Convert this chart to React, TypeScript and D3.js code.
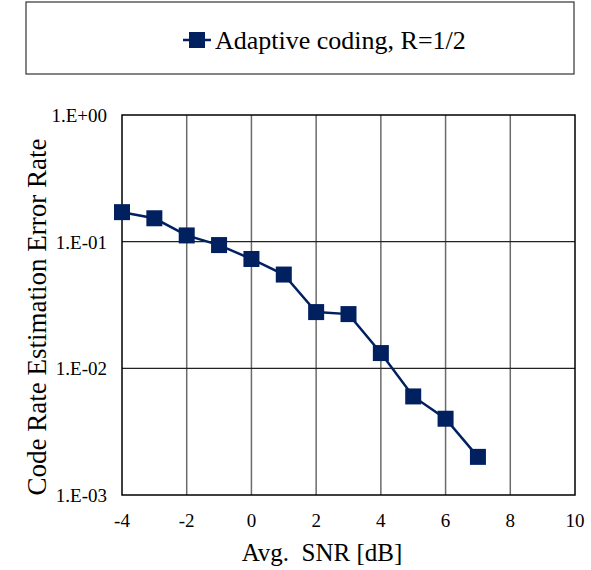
import { useEffect, useRef } from 'react'
import * as d3 from 'd3'

const snr = [-4, -3, -2, -1, 0, 1, 2, 3, 4, 5, 6, 7]
const errorRate = [0.171, 0.153, 0.112, 0.094, 0.073, 0.055, 0.0278, 0.0268, 0.0132, 0.006, 0.004, 0.002]
const xTicks = [-4, -2, 0, 2, 4, 6, 8, 10]
const yTicks = [1, 0.1, 0.01, 0.001]
const yTickLabels = ['1.E+00', '1.E-01', '1.E-02', '1.E-03']
const seriesName = 'Adaptive coding, R=1/2'

export default function App() {
  const svgRef = useRef<SVGSVGElement>(null)

  useEffect(() => {
    const W = 591
    const H = 570
    const margin = { top: 115, right: 16, bottom: 75, left: 122 }
    const innerW = W - margin.left - margin.right
    const innerH = H - margin.top - margin.bottom
    const color = '#002060'
    const font = "'Liberation Serif', 'Times New Roman', 'DejaVu Serif', serif"

    const svg = d3.select(svgRef.current)
    svg.selectAll('*').remove()
    svg.attr('width', W).attr('height', H).style('font-family', font)

    svg.append('rect').attr('width', W).attr('height', H).attr('fill', '#fff')

    const x = d3.scaleLinear().domain([-4, 10]).range([0, innerW])
    const y = d3.scaleLog().domain([0.001, 1]).range([innerH, 0])

    const g = svg.append('g').attr('transform', `translate(${margin.left},${margin.top})`)

    // vertical grid
    g.append('g')
      .selectAll('line')
      .data(xTicks.slice(1, -1))
      .join('line')
      .attr('x1', (d) => x(d)).attr('x2', (d) => x(d))
      .attr('y1', 0).attr('y2', innerH)
      .attr('stroke', '#6b6b6b').attr('stroke-width', 1.5)

    // horizontal grid
    g.append('g')
      .selectAll('line')
      .data(yTicks.slice(1, -1))
      .join('line')
      .attr('x1', 0).attr('x2', innerW)
      .attr('y1', (d) => y(d)).attr('y2', (d) => y(d))
      .attr('stroke', '#222').attr('stroke-width', 1.2)

    g.append('rect')
      .attr('width', innerW).attr('height', innerH)
      .attr('fill', 'none').attr('stroke', '#000').attr('stroke-width', 1.5)

    // x tick labels
    g.append('g')
      .selectAll('text')
      .data(xTicks)
      .join('text')
      .attr('x', (d) => x(d)).attr('y', innerH + 32)
      .attr('text-anchor', 'middle')
      .style('font-size', '19px').attr('fill', '#000')
      .text((d) => String(d))

    // y tick labels
    g.append('g')
      .selectAll('text')
      .data(yTicks)
      .join('text')
      .attr('x', -15).attr('y', (d) => y(d) + 7)
      .attr('text-anchor', 'end')
      .style('font-size', '19px').attr('fill', '#000')
      .text((_, i) => yTickLabels[i])

    const pts = snr.map((s, i) => ({ s, v: errorRate[i] }))
    const line = d3.line<{ s: number; v: number }>().x((d) => x(d.s)).y((d) => y(d.v))

    g.append('path')
      .datum(pts)
      .attr('fill', 'none').attr('stroke', color).attr('stroke-width', 2.5)
      .attr('d', line)

    const ms = 16
    g.append('g')
      .selectAll('rect')
      .data(pts)
      .join('rect')
      .attr('x', (d) => x(d.s) - ms / 2).attr('y', (d) => y(d.v) - ms / 2)
      .attr('width', ms).attr('height', ms)
      .attr('fill', color)

    // axis titles
    svg.append('text')
      .attr('x', 322).attr('y', 561)
      .attr('text-anchor', 'middle')
      .style('font-size', '25px').style('white-space', 'pre').attr('fill', '#000')
      .text('Avg.  SNR [dB]')

    svg.append('text')
      .attr('transform', 'translate(46,317) rotate(-90)')
      .attr('text-anchor', 'middle')
      .style('font-size', '27px').attr('fill', '#000')
      .text('Code Rate Estimation Error Rate')

    // legend
    svg.append('rect')
      .attr('x', 26).attr('y', 2).attr('width', 548).attr('height', 72)
      .attr('fill', '#fff').attr('stroke', '#333').attr('stroke-width', 1.2)

    const lg = svg.append('g').attr('transform', 'translate(183,40)')
    lg.append('line').attr('x1', 0).attr('x2', 28).attr('y1', 0).attr('y2', 0)
      .attr('stroke', color).attr('stroke-width', 2.5)
    lg.append('rect').attr('x', 14 - ms / 2).attr('y', -ms / 2).attr('width', ms).attr('height', ms)
      .attr('fill', color)
    lg.append('text')
      .attr('x', 32).attr('y', 9)
      .style('font-size', '26px').attr('fill', '#000')
      .text(seriesName)
  }, [])

  return (
    <div style={{ position: 'absolute', left: 0, top: 0 }}>
      <svg ref={svgRef} style={{ display: 'block' }} />
    </div>
  )
}
